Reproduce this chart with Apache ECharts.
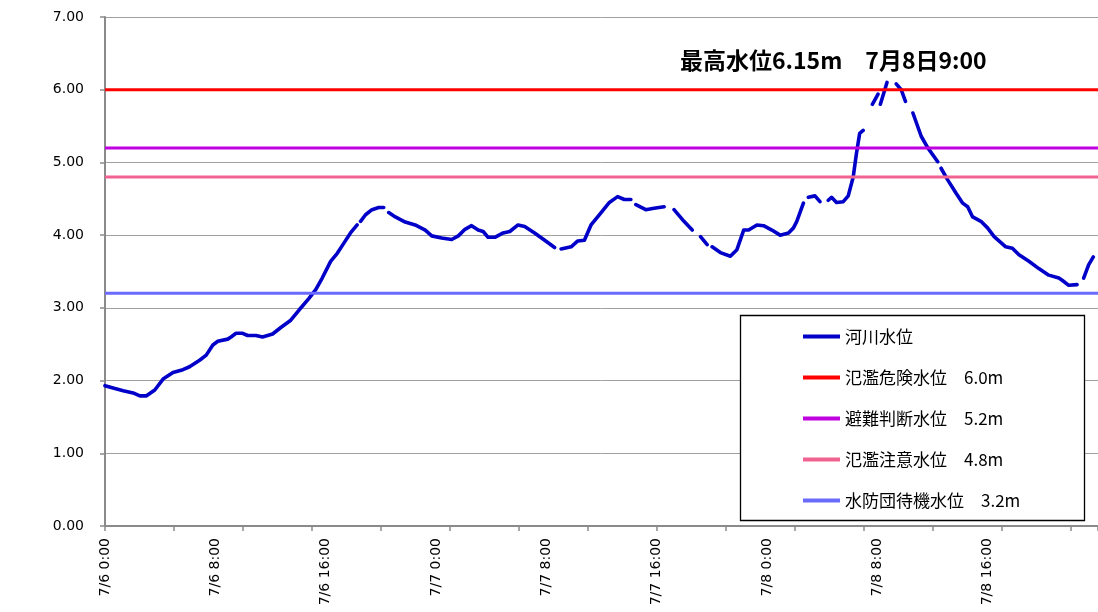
<!DOCTYPE html>
<html>
<head>
<meta charset="utf-8">
<script src="https://cdn.jsdelivr.net/npm/echarts@6/dist/echarts.min.js"></script>
<style>html,body{margin:0;padding:0;background:#fff}#c{width:1098px;height:612px}</style>
</head>
<body>
<div id="c"></div>
<script>
// hours elapsed since 7/6 0:00 (null level = missing data gap)
const hours = [0,0.72,1.32,2.04,2.53,3.01,3.61,4.21,4.93,5.65,6.13,6.86,7.34,7.82,8.18,8.90,9.14,9.50,9.98,10.34,10.95,11.42,12.15,12.75,13.47,14.07,14.79,15.28,15.75,16.36,16.84,17.32,17.80,18.28,18.4,18.53,18.89,19.36,19.85,20.21,20.4,20.57,21.05,21.77,22.49,23.22,23.69,24.41,25.14,25.62,26.10,26.58,27.06,27.42,27.78,28.27,28.87,29.35,29.95,30.43,31.15,31.88,32.60,32.8,33.07,33.80,34.28,34.76,35.24,35.84,36.57,37.17,37.65,38.13,38.3,38.49,39.21,39.81,40.54,40.9,41.26,41.98,42.58,42.9,43.18,43.66,43.8,44.02,44.62,45.34,45.82,46.31,46.67,47.27,47.75,48.35,48.95,49.56,49.92,50.16,50.64,50.8,51.00,51.48,51.84,52.1,52.44,52.68,53.04,53.53,53.89,54.25,54.49,54.72,54.97,55.3,55.64,56.05,56.13,56.22,56.70,57.0,57.37,57.73,58.04,58.3,58.58,59.18,59.66,60.38,60.5,60.62,61.10,61.70,62.19,62.55,62.91,63.51,63.99,64.47,65.31,65.79,66.27,66.99,67.71,68.43,69.16,69.40,69.88,70.48,70.7,70.96,71.32,71.66];
const riverLevel = [1.93,1.89,1.86,1.83,1.79,1.79,1.87,2.02,2.11,2.15,2.19,2.28,2.35,2.49,2.54,2.57,2.60,2.65,2.65,2.62,2.62,2.60,2.64,2.73,2.83,2.97,3.13,3.25,3.41,3.64,3.75,3.89,4.03,4.14,null,4.19,4.28,4.35,4.38,4.38,null,4.31,4.25,4.18,4.14,4.07,3.99,3.96,3.94,3.99,4.08,4.13,4.07,4.05,3.97,3.97,4.03,4.05,4.14,4.12,4.03,3.93,3.83,null,3.81,3.84,3.92,3.93,4.14,4.28,4.45,4.53,4.49,4.49,null,4.42,4.35,4.37,4.39,null,4.35,4.19,4.07,null,3.98,3.87,null,3.84,3.76,3.71,3.80,4.07,4.07,4.14,4.13,4.07,4.00,4.03,4.10,4.19,4.44,null,4.52,4.54,4.46,null,4.48,4.52,4.45,4.46,4.54,4.80,5.13,5.40,5.44,null,5.80,5.94,null,5.80,6.10,null,6.08,6.00,5.84,null,5.68,5.36,5.20,5.01,null,4.92,4.76,4.58,4.44,4.39,4.25,4.19,4.10,3.98,3.84,3.82,3.73,3.64,3.54,3.45,3.41,3.38,3.31,3.32,null,3.41,3.59,3.70];

const seriesNames = ['河川水位','氾濫危険水位　6.0m','避難判断水位　5.2m','氾濫注意水位　4.8m','水防団待機水位　3.2m'];
const thresholdValues = [6.0, 5.2, 4.8, 3.2];
const seriesColors = ['#0000C8','#FF0000','#BF00E0','#F0628F','#6A6AFF'];
const xLabelHours = [0,8,16,24,32,40,48,56,64];
const xTickLabels = ['7/6 0:00','7/6 8:00','7/6 16:00','7/7 0:00','7/7 8:00','7/7 16:00','7/8 0:00','7/8 8:00','7/8 16:00'];
const yTickLabels = ['0.00','1.00','2.00','3.00','4.00','5.00','6.00','7.00'];
const annotation = '最高水位6.15m　7月8日9:00';

const X_MIN = 0, X_MAX = 72;
const chart = echarts.init(document.getElementById('c'), null, {renderer:'canvas'});

const series = [{
  name: seriesNames[0], type: 'line', xAxisIndex: 0,
  data: hours.map((h,i)=>[h, riverLevel[i]]),
  showSymbol: false, symbol: 'none', connectNulls: false, smooth: false,
  lineStyle: {color: seriesColors[0], width: 3.6, cap: 'round', join: 'round'},
  itemStyle: {color: seriesColors[0]}, z: 2, animation: false
}];
thresholdValues.forEach((v,i)=>{
  series.push({
    name: seriesNames[i+1], type: 'line', xAxisIndex: 0,
    data: [[X_MIN, v],[X_MAX, v]], symbol: 'none', showSymbol: false,
    lineStyle: {color: seriesColors[i+1], width: 3},
    itemStyle: {color: seriesColors[i+1]}, z: 3, animation: false
  });
});

chart.setOption({
  animation: false,
  backgroundColor: '#fff',
  grid: {left: 105, right: -5, top: 17, bottom: 86, containLabel: false},
  xAxis: [{
    type: 'value', min: X_MIN, max: X_MAX, interval: 5,
    axisLine: {show: true, lineStyle: {color: '#8a8a8a', width: 2}},
    axisTick: {show: true, length: 5, lineStyle: {color: '#8a8a8a', width: 1.5}},
    axisLabel: {show: false}, splitLine: {show: false}
  },{
    type: 'value', min: X_MIN, max: X_MAX, interval: 8, position: 'bottom',
    axisLine: {show: false}, axisTick: {show: false}, splitLine: {show: false},
    axisLabel: {
      show: true, rotate: 90, margin: 12, color: '#000',
      fontFamily: 'DejaVu Sans', fontSize: 14, showMaxLabel: false,
      formatter: (val)=>{ const k = xLabelHours.indexOf(Math.round(val)); return k>=0 ? xTickLabels[k] : ''; }
    }
  }],
  yAxis: {
    type: 'value', min: 0, max: 7, interval: 1,
    axisLine: {show: true, lineStyle: {color: '#8a8a8a', width: 2}},
    axisTick: {show: true, length: 5, lineStyle: {color: '#8a8a8a', width: 1.5}},
    splitLine: {show: true, lineStyle: {color: '#a0a0a0', width: 1}},
    axisLabel: {color: '#000', fontFamily: 'DejaVu Sans', fontSize: 14, margin: 21,
      formatter: (v)=> yTickLabels[Math.round(v)] }
  },
  legend: {
    show: true, orient: 'vertical', left: 803, top: 328, padding: 0,
    icon: 'rect', itemWidth: 37, itemHeight: 4, itemGap: 24, z: 20,
    data: seriesNames,
    textStyle: {color: '#000', fontFamily: '"Noto Sans CJK JP"', fontSize: 17},
    selectedMode: false
  },
  graphic: [
    {type: 'rect', z: 15, silent: true,
     shape: {x: 740.5, y: 315.5, width: 344, height: 205},
     style: {fill: '#fff', stroke: '#000', lineWidth: 1.3}},
    {type: 'text', z: 15, silent: true, x: 680, y: 60,
     style: {text: annotation, fill: '#000', font: 'bold 23px "Noto Sans CJK JP"', verticalAlign: 'middle', align: 'left'}}
  ],
  series: series
});
</script>
</body>
</html>
